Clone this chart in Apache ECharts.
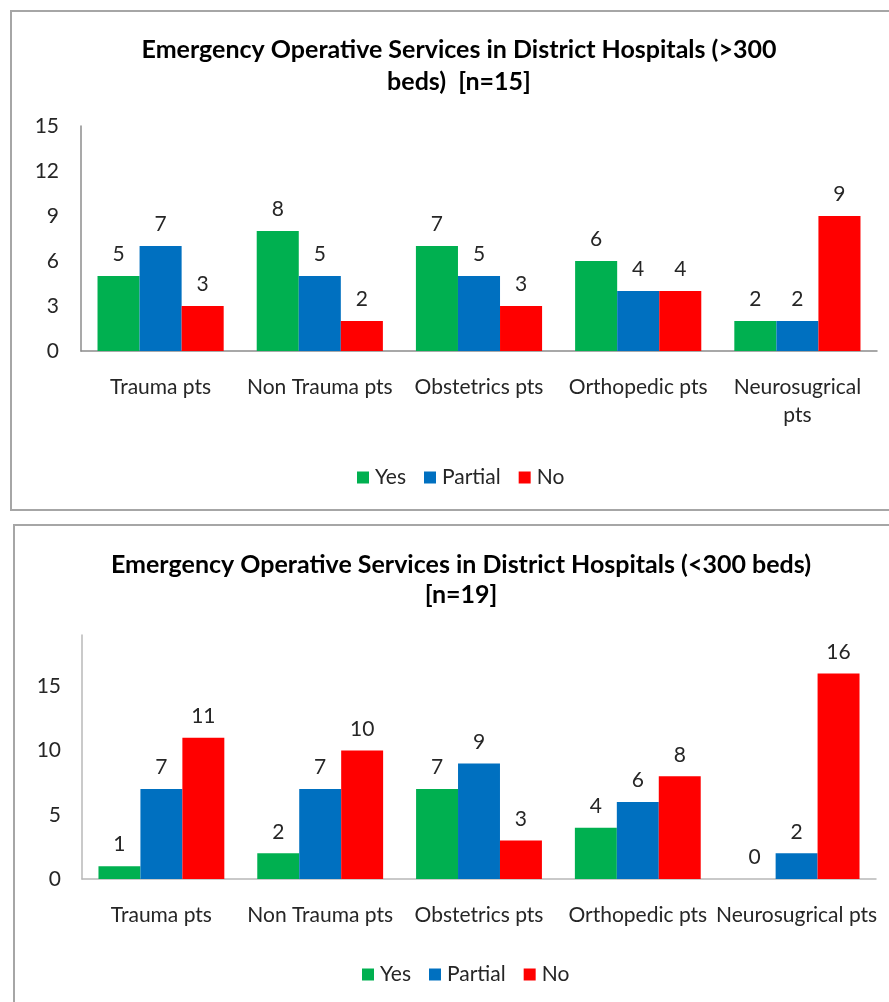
<!DOCTYPE html>
<html>
<head>
<meta charset="utf-8">
<script src="https://cdn.jsdelivr.net/npm/echarts@6/dist/echarts.min.js"></script>
<style>
html,body{margin:0;padding:0;background:#fff;overflow:hidden;}
#c{width:889px;height:1002px;}
</style>
</head>
<body>
<div id="c"></div>
<script>
// ---- data ----
const categories = ['Trauma pts', 'Non Trauma pts', 'Obstetrics pts', 'Orthopedic pts', 'Neurosugrical pts'];
const seriesNames = ['Yes', 'Partial', 'No'];
const topYes = [5, 8, 7, 6, 2];
const topPartial = [7, 5, 5, 4, 2];
const topNo = [3, 2, 3, 4, 9];
const bottomYes = [1, 2, 7, 4, 0];
const bottomPartial = [7, 7, 9, 6, 2];
const bottomNo = [11, 10, 3, 8, 16];
const topTitle = 'Emergency Operative Services in District Hospitals (>300\nbeds)  [n=15]';
const bottomTitle = 'Emergency Operative Services in District Hospitals (<300 beds)\n[n=19]';
const topTicks = {min: 0, max: 15, interval: 3};
const bottomTicks = {min: 0, max: 19, interval: 5};

const colors = ['#00B050', '#0070C0', '#FF0000'];
const FONT = 'Lato';
const txt = '#262626';
const FS = 21;

const chart = echarts.init(document.getElementById('c'), null, {renderer: 'canvas'});

function mkSeries(name, data, idx, color) {
  return {
    name: name, type: 'bar', data: data,
    xAxisIndex: idx, yAxisIndex: idx,
    barGap: '0%', barCategoryGap: '20.75%',
    itemStyle: {color: color},
    label: {show: true, position: 'top', distance: 11, fontFamily: FONT, fontSize: FS, color: txt},
    emphasis: {disabled: true}
  };
}

const axisLabelBase = {fontFamily: FONT, fontSize: FS, color: txt};

chart.setOption({
  animation: false,
  color: colors,
  graphic: [
    {type: 'rect', shape: {x: 11, y: 11, width: 900, height: 499}, style: {fill: 'none', stroke: '#a6a6a6', lineWidth: 2}},
    {type: 'rect', shape: {x: 14, y: 525, width: 900, height: 500}, style: {fill: 'none', stroke: '#a6a6a6', lineWidth: 2}}
  ],
  title: [
    {text: topTitle, left: 454, top: 29, textAlign: 'center',
     textStyle: {fontFamily: FONT, fontWeight: 'bold', fontSize: 25, lineHeight: 32, color: '#000'}},
    {text: bottomTitle, left: 456, top: 545, textAlign: 'center',
     textStyle: {fontFamily: FONT, fontWeight: 'bold', fontSize: 25, lineHeight: 30, color: '#000'}}
  ],
  legend: [
    {data: seriesNames, left: 352, top: 462, itemWidth: 12, itemHeight: 12, itemGap: 18, icon: 'rect',
     textStyle: {fontFamily: FONT, fontSize: FS, color: txt, padding: [0, 0, 0, 1]}},
    {data: seriesNames, left: 357, top: 959, itemWidth: 12, itemHeight: 12, itemGap: 18, icon: 'rect',
     textStyle: {fontFamily: FONT, fontSize: FS, color: txt, padding: [0, 0, 0, 1]}}
  ],
  grid: [
    {left: 81, right: 12, top: 126, height: 225, containLabel: false},
    {left: 82, right: 13, top: 635, height: 244, containLabel: false}
  ],
  xAxis: [
    {type: 'category', data: categories, gridIndex: 0,
     axisLine: {lineStyle: {color: '#8c8c8c', width: 1.5}}, axisTick: {show: false},
     axisLabel: Object.assign({}, axisLabelBase, {margin: 22, lineHeight: 28, interval: 0,
       formatter: v => v === 'Neurosugrical pts' ? 'Neurosugrical\npts' : v})},
    {type: 'category', data: categories, gridIndex: 1,
     axisLine: {lineStyle: {color: '#b8b8b8', width: 1.5}}, axisTick: {show: false},
     axisLabel: Object.assign({}, axisLabelBase, {margin: 22, lineHeight: 28, interval: 0})}
  ],
  yAxis: [
    Object.assign({type: 'value', gridIndex: 0}, topTicks, {
     axisLine: {show: true, lineStyle: {color: '#8c8c8c', width: 1.5}}, axisTick: {show: false},
     splitLine: {show: false},
     axisLabel: Object.assign({}, axisLabelBase, {margin: 22})}),
    Object.assign({type: 'value', gridIndex: 1}, bottomTicks, {
     axisLine: {show: true, lineStyle: {color: '#b8b8b8', width: 1.5}}, axisTick: {show: false},
     splitLine: {show: false},
     axisLabel: Object.assign({}, axisLabelBase, {margin: 21, showMaxLabel: false})})
  ],
  series: [
    mkSeries('Yes', topYes, 0, colors[0]),
    mkSeries('Partial', topPartial, 0, colors[1]),
    mkSeries('No', topNo, 0, colors[2]),
    mkSeries('Yes', bottomYes, 1, colors[0]),
    mkSeries('Partial', bottomPartial, 1, colors[1]),
    mkSeries('No', bottomNo, 1, colors[2])
  ]
});
</script>
</body>
</html>
